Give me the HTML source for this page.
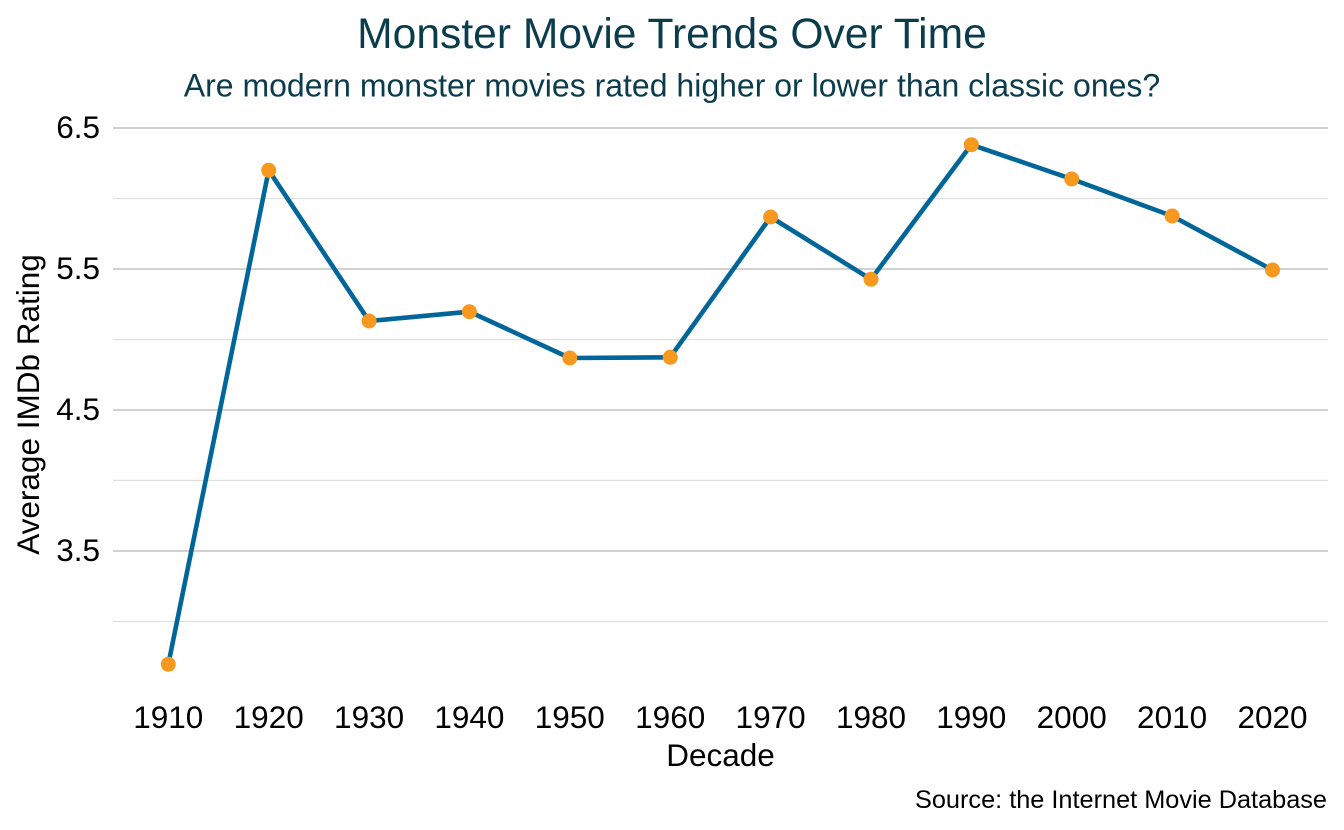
<!DOCTYPE html>
<html>
<head>
<meta charset="utf-8">
<style>
  html,body{margin:0;padding:0;background:#fff;}
  svg{display:block;}
  text{font-family:"Liberation Sans", Arial, Helvetica, sans-serif;}
</style>
</head>
<body>
<svg width="1344" height="830" viewBox="0 0 1344 830" xmlns="http://www.w3.org/2000/svg">
  <rect x="0" y="0" width="1344" height="830" fill="#ffffff"/>
  <!-- minor gridlines -->
  <g stroke="#e0e0e0" stroke-width="1.2">
    <line x1="113" y1="198.5" x2="1328" y2="198.5"/>
    <line x1="113" y1="339.5" x2="1328" y2="339.5"/>
    <line x1="113" y1="480.5" x2="1328" y2="480.5"/>
    <line x1="113" y1="621.5" x2="1328" y2="621.5"/>
  </g>
  <!-- major gridlines -->
  <g stroke="#c4c4c4" stroke-width="1.6">
    <line x1="113" y1="128" x2="1328" y2="128"/>
    <line x1="113" y1="269" x2="1328" y2="269"/>
    <line x1="113" y1="410" x2="1328" y2="410"/>
    <line x1="113" y1="551" x2="1328" y2="551"/>
  </g>

  <!-- series line -->
  <polyline fill="none" stroke="#00669a" stroke-width="4.6" stroke-linejoin="round" stroke-linecap="butt"
    points="168.3,664.3 268.7,170.3 369.1,321 469.4,311.7 569.8,358 670.2,357.3 770.6,217 871,279.3 971.3,144.7 1071.7,179 1172.1,216 1272.5,270"/>

  <!-- points -->
  <g fill="#f7991f">
    <circle cx="168.3" cy="664.3" r="7.5"/>
    <circle cx="268.7" cy="170.3" r="7.5"/>
    <circle cx="369.1" cy="321" r="7.5"/>
    <circle cx="469.4" cy="311.7" r="7.5"/>
    <circle cx="569.8" cy="358" r="7.5"/>
    <circle cx="670.2" cy="357.3" r="7.5"/>
    <circle cx="770.6" cy="217" r="7.5"/>
    <circle cx="871" cy="279.3" r="7.5"/>
    <circle cx="971.3" cy="144.7" r="7.5"/>
    <circle cx="1071.7" cy="179" r="7.5"/>
    <circle cx="1172.1" cy="216" r="7.5"/>
    <circle cx="1272.5" cy="270" r="7.5"/>
  </g>

  <!-- title / subtitle -->
  <text x="672" y="48" text-anchor="middle" font-size="42.6" fill="#0b3c4c">Monster Movie Trends Over Time</text>
  <text x="672" y="96.5" text-anchor="middle" font-size="32" fill="#0b3c4c">Are modern monster movies rated higher or lower than classic ones?</text>

  <!-- y tick labels -->
  <g font-size="31.5" fill="#000" text-anchor="end">
    <text x="100" y="138">6.5</text>
    <text x="100" y="279">5.5</text>
    <text x="100" y="420">4.5</text>
    <text x="100" y="561">3.5</text>
  </g>

  <!-- x tick labels -->
  <g font-size="31.5" fill="#000" text-anchor="middle">
    <text x="168.3" y="728">1910</text>
    <text x="268.7" y="728">1920</text>
    <text x="369.1" y="728">1930</text>
    <text x="469.4" y="728">1940</text>
    <text x="569.8" y="728">1950</text>
    <text x="670.2" y="728">1960</text>
    <text x="770.6" y="728">1970</text>
    <text x="871" y="728">1980</text>
    <text x="971.3" y="728">1990</text>
    <text x="1071.7" y="728">2000</text>
    <text x="1172.1" y="728">2010</text>
    <text x="1272.5" y="728">2020</text>
  </g>

  <!-- axis titles -->
  <text x="720.5" y="766" text-anchor="middle" font-size="31.5" fill="#000">Decade</text>
  <text transform="translate(39,404.5) rotate(-90)" text-anchor="middle" font-size="31.5" fill="#000">Average IMDb Rating</text>

  <!-- caption -->
  <text x="1327" y="808" text-anchor="end" font-size="25.3" fill="#000">Source: the Internet Movie Database</text>
</svg>
</body>
</html>
